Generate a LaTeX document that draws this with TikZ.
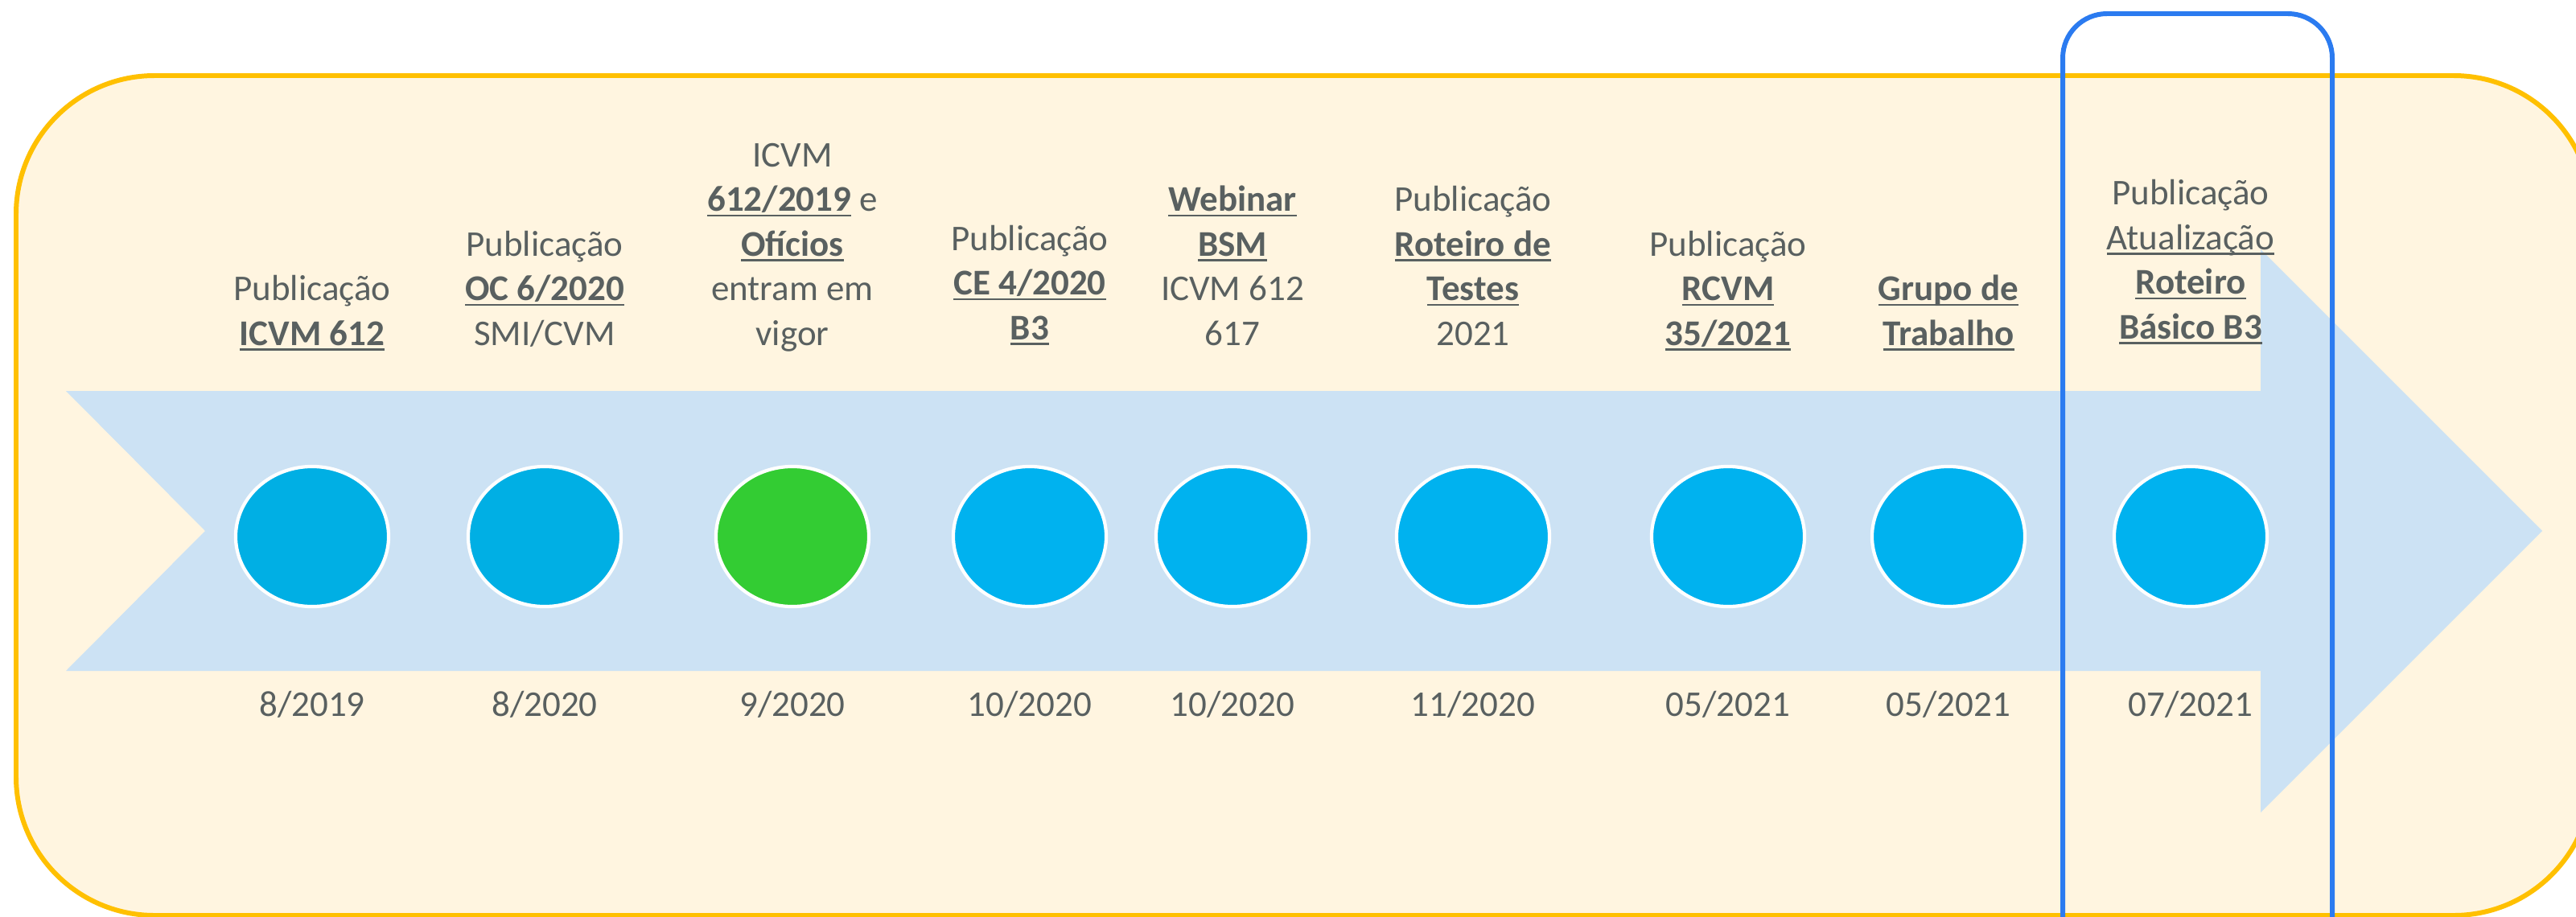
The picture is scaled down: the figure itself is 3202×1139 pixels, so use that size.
\documentclass[tikz,border=0pt]{standalone}
\usepackage{fontspec}
\setmainfont{Carlito}
\usepackage{xcolor}
\usetikzlibrary{shapes,arrows.meta,positioning}

\definecolor{panelfill}{HTML}{FFF5E0}
\definecolor{panelline}{HTML}{FFC000}
\definecolor{arrowfill}{HTML}{CCE2F4}
\definecolor{dotblue}{HTML}{00B2EF}
\definecolor{dotdark}{HTML}{00AFE4}
\definecolor{dotgreen}{HTML}{33CC33}
\definecolor{frameblue}{HTML}{2B7BF0}
\definecolor{textgray}{HTML}{596060}

% underlined word, line at a fixed depth
\newcommand{\ulb}[1]{\sbox0{#1}\rlap{\rule[-0.14em]{\wd0}{0.05em}}\usebox0}

\begin{document}
\begin{tikzpicture}
      [x=0.01cm, y=-0.01cm,
      panel style/.style={draw=panelline, fill=panelfill, line width=1.7pt, rounded corners=1.72cm},
      frame style/.style={draw=frameblue, line width=1.7pt, rounded corners=0.55cm},
      dot style1/.style={draw=white, line width=1.2pt, ellipse, inner sep=0pt, minimum width=1.9cm, minimum height=1.74cm, fill=dotblue},
      dot style2/.style={dot style1, fill=dotdark},
      dot style3/.style={dot style1, fill=dotgreen},
      label style/.style={anchor=south, inner sep=0pt, align=center, text=textgray, font=\fontsize{12.8pt}{15.8pt}\selectfont},
      date style/.style={anchor=base, inner sep=0pt, text=textgray, font=\fontsize{12.8pt}{15.8pt}\selectfont}
      ]

      \useasboundingbox (0,0) rectangle (3202,1139);
      \fill[white] (0,0) rectangle (3202,1139);
      \clip (0,0) rectangle (3202,1139);

      \draw[panel style] (20,94) rectangle (3222,1138);

      % timeline arrow
      \fill[arrowfill] (82,486) -- (2810,486) -- (2810,310) -- (3160,660)
        -- (2810,1010) -- (2810,834) -- (82,834) -- (255,660) -- cycle;

      \node[dot style2] (c1) at (388,667) {};
      \node[dot style2] (c2) at (677,667) {};
      \node[dot style3] (c3) at (985,667) {};
      \node[dot style1] (c4) at (1280,667) {};
      \node[dot style1] (c5) at (1532,667) {};
      \node[dot style1] (c6) at (1831,667) {};
      \node[dot style1] (c7) at (2148,667) {};
      \node[dot style1] (c8) at (2422,667) {};
      \node[dot style1] (c9) at (2723,667) {};

      \node[label style] (t1) at (388,446.7) {Publicação\\\ulb{\textbf{ICVM 612}}\strut};
      \node[label style] (t2) at (677,446.7) {Publicação\\\ulb{\textbf{OC 6/2020}}\\SMI/CVM\strut};
      \node[label style] (t3) at (985,446.7) {ICVM\\\ulb{\textbf{612/2019}} e\\\ulb{\textbf{Ofícios}}\\entram em\\vigor\strut};
      \node[label style] (t4) at (1280,439.7) {Publicação\\\ulb{\textbf{CE 4/2020}}\\\ulb{\textbf{B3}}\strut};
      \node[label style] (t5) at (1532,446.7) {\ulb{\textbf{Webinar}}\\\ulb{\textbf{BSM}}\\ICVM 612\\617\strut};
      \node[label style] (t6) at (1831,446.7) {Publicação\\\ulb{\textbf{Roteiro de}}\\\ulb{\textbf{Testes}}\\2021\strut};
      \node[label style] (t7) at (2148,446.7) {Publicação\\\ulb{\textbf{RCVM}}\\\ulb{\textbf{35/2021}}\strut};
      \node[label style] (t8) at (2422,446.7) {\ulb{\textbf{Grupo de}}\\\ulb{\textbf{Trabalho}}\strut};
      \node[label style] (t9) at (2723,438.7) {Publicação\\\ulb{Atualização}\\\ulb{\textbf{Roteiro}}\\\ulb{\textbf{Básico B3}}\strut};

      \node[date style] (d1) at (388,890) {8/2019};
      \node[date style] (d2) at (677,890) {8/2020};
      \node[date style] (d3) at (985,890) {9/2020};
      \node[date style] (d4) at (1280,890) {10/2020};
      \node[date style] (d5) at (1532,890) {10/2020};
      \node[date style] (d6) at (1831,890) {11/2020};
      \node[date style] (d7) at (2148,890) {05/2021};
      \node[date style] (d8) at (2422,890) {05/2021};
      \node[date style] (d9) at (2723,890) {07/2021};

      % highlight of the last step
      \draw[frame style] (2564,17) rectangle (2899,1250);
\end{tikzpicture}
\end{document}
